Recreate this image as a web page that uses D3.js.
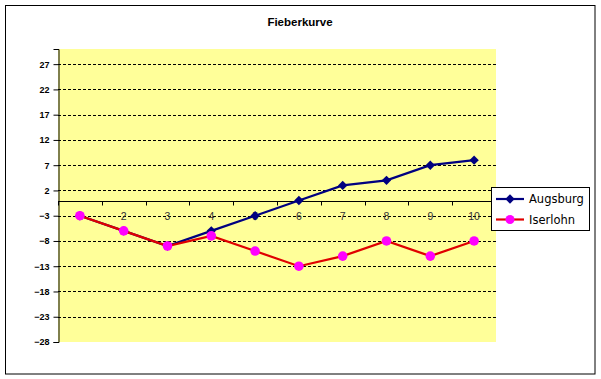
<!DOCTYPE html>
<html><head><meta charset="utf-8">
<script src="https://cdn.jsdelivr.net/npm/d3@7"></script>
<style>html,body{margin:0;padding:0;background:#fff;}svg{display:block;}</style>
</head><body>
<svg id="chart" width="601" height="379"></svg>
<script>
const title = "Fieberkurve";
const categories = [1,2,3,4,5,6,7,8,9,10];
const augsburg = [-3,-6,-9,-6,-3,0,3,4,7,8];
const iserlohn = [-3,-6,-9,-7,-10,-13,-11,-8,-11,-8];
const seriesNames = ["Augsburg","Iserlohn"];
const yTicks = [-28,-23,-18,-13,-8,-3,2,7,12,17,22,27];
const yMin = -28, yMax = 30;

const svg = d3.select("#chart");
const plot = {left:58, top:49, right:496, bottom:342};

svg.append("rect").attr("x",5.5).attr("y",5.5).attr("width",589.5).attr("height",368.5)
  .attr("fill","#fff").attr("stroke","#000").attr("stroke-width",1);

svg.append("text").attr("x",300).attr("y",26).attr("text-anchor","middle")
  .attr("font-family","Liberation Sans, Arial, sans-serif").attr("font-weight","bold")
  .attr("font-size","11.5px").attr("fill","#000").text(title);

const x = d3.scaleBand().domain(categories).range([plot.left, plot.right]).padding(0);
const y = d3.scaleLinear().domain([yMin, yMax]).range([plot.bottom, plot.top]);

svg.append("rect").attr("x",plot.left).attr("y",plot.top)
  .attr("width",plot.right-plot.left).attr("height",plot.bottom-plot.top).attr("fill","#FFFF99");

// gridlines
svg.append("g").selectAll("line").data(yTicks.filter(v=>v!==yMin)).join("line")
  .attr("x1",plot.left).attr("x2",plot.right)
  .attr("y1",d=>Math.round(y(d))+0.5).attr("y2",d=>Math.round(y(d))+0.5)
  .attr("stroke","#000").attr("stroke-width",1).attr("stroke-dasharray","3,2");

// y axis
const yAxis = d3.axisLeft(y).tickValues(yTicks).tickSize(5).tickPadding(4).tickFormat(d3.format("d"));
const gy = svg.append("g").attr("transform",`translate(${plot.left+0.5},0)`).call(yAxis);
gy.select(".domain").attr("stroke","#000");
gy.selectAll(".tick line").attr("stroke","#000");
gy.selectAll(".tick text").attr("font-family","Liberation Sans, Arial, sans-serif")
  .attr("font-weight","bold").attr("font-size","9px").attr("fill","#000");

// x axis at y=0
const y0 = Math.round(y(0))+0.5;
const gx = svg.append("g").attr("transform",`translate(0,${y0})`);
gx.append("line").attr("x1",plot.left).attr("x2",plot.right).attr("y1",0).attr("y2",0).attr("stroke","#000");
const bounds = categories.map(c=>x(c)).concat([plot.right]);
gx.selectAll("line.tk").data(bounds).join("line").attr("class","tk")
  .attr("x1",d=>Math.round(d)+0.5).attr("x2",d=>Math.round(d)+0.5).attr("y1",0).attr("y2",4).attr("stroke","#000");
gx.selectAll("text").data(categories).join("text")
  .attr("x",d=>x(d)+x.bandwidth()/2).attr("y",18.5).attr("text-anchor","middle")
  .attr("font-family","Liberation Sans, Arial, sans-serif").attr("font-size","10.5px").attr("fill","#333")
  .text(d=>d);

const line = d3.line().x((d,i)=>x(categories[i])+x.bandwidth()/2).y(d=>y(d));
const diamond = d3.symbol().type(d3.symbolSquare).size(44);

// Augsburg
svg.append("path").datum(augsburg).attr("d",line).attr("fill","none").attr("stroke","#000080").attr("stroke-width",2.2);
svg.append("g").selectAll("path").data(augsburg).join("path")
  .attr("transform",(d,i)=>`translate(${x(categories[i])+x.bandwidth()/2},${y(d)}) rotate(45)`)
  .attr("d",diamond).attr("fill","#000080");

// Iserlohn
svg.append("path").datum(iserlohn).attr("d",line).attr("fill","none").attr("stroke","#E00000").attr("stroke-width",2.2);
svg.append("g").selectAll("circle").data(iserlohn).join("circle")
  .attr("cx",(d,i)=>x(categories[i])+x.bandwidth()/2).attr("cy",d=>y(d)).attr("r",4.8)
  .attr("fill","#FF00FF");

// legend
const lg = svg.append("g");
lg.append("rect").attr("x",491.5).attr("y",187.5).attr("width",98).attr("height",43)
  .attr("fill","#fff").attr("stroke","#000");
const colors = ["#000080","#E00000"];
seriesNames.forEach((n,i)=>{
  const yy = 199 + i*20.5;
  lg.append("line").attr("x1",496).attr("x2",524).attr("y1",yy).attr("y2",yy).attr("stroke",colors[i]).attr("stroke-width",2.2);
  if(i===0) lg.append("path").attr("transform",`translate(510,${yy}) rotate(45)`).attr("d",diamond).attr("fill","#000080");
  else lg.append("circle").attr("cx",510).attr("cy",yy).attr("r",4.5).attr("fill","#FF00FF");
  lg.append("text").attr("x",529).attr("y",yy+4.3).attr("font-family","DejaVu Sans, Verdana, sans-serif")
    .attr("font-size","11.5px").attr("fill","#000").text(n);
});
</script>
</body></html>
